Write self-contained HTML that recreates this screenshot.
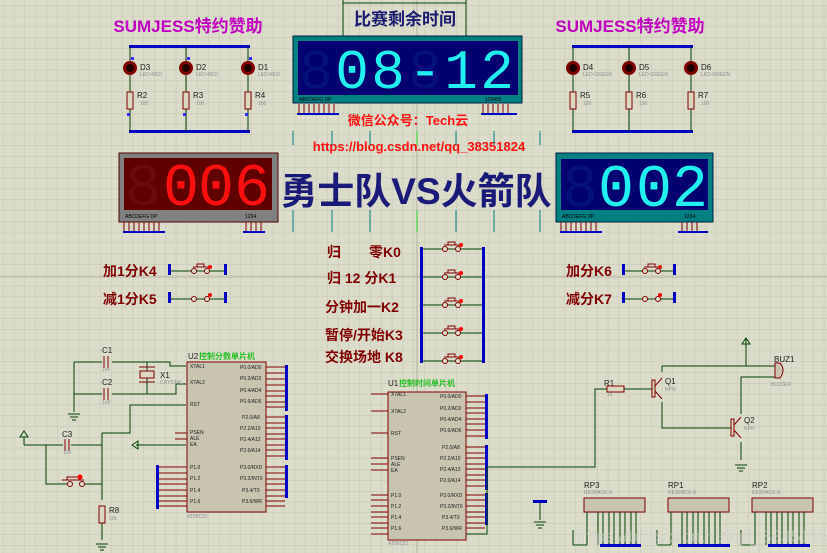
<!DOCTYPE html>
<html><head><meta charset="utf-8"><style>
html,body{margin:0;padding:0;background:#dcdccb;}
svg{display:block}
.t{font-family:"Liberation Sans","Noto Sans CJK SC",sans-serif;}
</style></head><body>
<svg width="827" height="553" viewBox="0 0 827 553" xmlns="http://www.w3.org/2000/svg" class="t">
<defs>
<pattern id="g" width="10.8" height="10.8" patternUnits="userSpaceOnUse" x="3" y="5">
<rect width="10.8" height="10.8" fill="#dcdccb"/>
<path d="M0 0H10.8M0 0V10.8" stroke="#c4c4b2" stroke-width="1" fill="none"/>
</pattern>
</defs>
<rect width="827" height="553" fill="url(#g)"/>
<line x1="0" y1="277" x2="827" y2="277" stroke="#b4b4a4" stroke-width="1"/>
<line x1="417" y1="0" x2="417" y2="553" stroke="#b4b4a4" stroke-width="1"/>

<path d="M343 0V36M466 0V36M343 3H466" stroke="#004000" fill="none"/>
<text x="405" y="25" font-size="17" font-weight="bold" fill="#1a1a70" text-anchor="middle">比赛剩余时间</text>

<text x="188" y="32" font-size="17" font-weight="bold" fill="#c000c0" text-anchor="middle">SUMJESS特约赞助</text>
<text x="630" y="32" font-size="17" font-weight="bold" fill="#c000c0" text-anchor="middle">SUMJESS特约赞助</text>

<g>
<rect x="129" y="45" width="121" height="3" fill="#0000c0"/>
<rect x="129" y="130" width="121" height="3" fill="#0000c0"/>
<g stroke="#004000" fill="none"><path d="M130 47V131M186 47V131M248 47V131"/></g>
<g fill="#800000"><circle cx="130" cy="68" r="7"/><circle cx="186" cy="68" r="7"/><circle cx="248" cy="68" r="7"/></g>
<g fill="#200000"><circle cx="130" cy="68" r="4"/><circle cx="186" cy="68" r="4"/><circle cx="248" cy="68" r="4"/></g>
<g fill="#dcd8c0" stroke="#800000"><rect x="127" y="92" width="6" height="17"/><rect x="183" y="92" width="6" height="17"/><rect x="245" y="92" width="6" height="17"/></g>
<g font-size="8" fill="#202020"><text x="140" y="70">D3</text><text x="196" y="70">D2</text><text x="258" y="70">D1</text><text x="137" y="98">R2</text><text x="193" y="98">R3</text><text x="255" y="98">R4</text></g>
<g font-size="5" fill="#909090"><text x="140" y="76">LED-RED</text><text x="196" y="76">LED-RED</text><text x="258" y="76">LED-RED</text><text x="140" y="105">100</text><text x="196" y="105">100</text><text x="258" y="105">100</text></g>
<g fill="#3030ff"><rect x="131" y="57" width="3" height="3"/><rect x="187" y="57" width="3" height="3"/><rect x="249" y="57" width="3" height="3"/><rect x="127" y="113" width="3" height="3"/><rect x="183" y="113" width="3" height="3"/><rect x="245" y="113" width="3" height="3"/></g>
</g>
<g transform="translate(443,0)">
<rect x="129" y="45" width="121" height="3" fill="#0000c0"/>
<rect x="129" y="130" width="121" height="3" fill="#0000c0"/>
<g stroke="#004000" fill="none"><path d="M130 47V131M186 47V131M248 47V131"/></g>
<g fill="#800000"><circle cx="130" cy="68" r="7"/><circle cx="186" cy="68" r="7"/><circle cx="248" cy="68" r="7"/></g>
<g fill="#200000"><circle cx="130" cy="68" r="4"/><circle cx="186" cy="68" r="4"/><circle cx="248" cy="68" r="4"/></g>
<g fill="#dcd8c0" stroke="#800000"><rect x="127" y="92" width="6" height="17"/><rect x="183" y="92" width="6" height="17"/><rect x="245" y="92" width="6" height="17"/></g>
<g font-size="8" fill="#202020"><text x="140" y="70">D4</text><text x="196" y="70">D5</text><text x="258" y="70">D6</text><text x="137" y="98">R5</text><text x="193" y="98">R6</text><text x="255" y="98">R7</text></g>
<g font-size="5" fill="#909090"><text x="140" y="76">LED-GREEN</text><text x="196" y="76">LED-GREEN</text><text x="258" y="76">LED-GREEN</text><text x="140" y="105">100</text><text x="196" y="105">100</text><text x="258" y="105">100</text></g>
</g>

<rect x="293" y="36" width="229" height="67" fill="#008080" stroke="#002040"/>
<rect x="298" y="41" width="220" height="54" fill="#000070"/>
<g font-size="56" fill="#06107c" text-anchor="middle" font-family="Liberation Mono,monospace"><text x="316" y="88">8</text><text x="425" y="88">8</text></g>
<g font-size="56" fill="#20f0f0" text-anchor="middle" font-family="Liberation Mono,monospace"><text x="352" y="88">0</text><text x="388" y="88">8</text><text x="425" y="88">-</text><text x="461" y="88">1</text><text x="497" y="88">2</text></g>
<text x="299" y="101" font-size="5" fill="#000">ABCDEFG  DP</text><text x="485" y="101" font-size="5" fill="#000">123456</text>
<rect x="297" y="113" width="42" height="2" fill="#0000c0"/><rect x="481" y="113" width="36" height="2" fill="#0000c0"/>
<g stroke="#800000"><path d="M299 104V113M304 104V113M309 104V113M314 104V113M319 104V113M324 104V113M329 104V113M334 104V113M483 104V113M488 104V113M493 104V113M498 104V113M503 104V113M508 104V113"/></g>

<text x="408" y="125" font-size="13" font-weight="bold" fill="#ff1010" text-anchor="middle">微信公众号：Tech云</text>
<text x="419" y="151" font-size="13" font-weight="bold" fill="#ff1010" text-anchor="middle">https://blog.csdn.net/qq_38351824</text>
<g stroke="#008080"><path d="M293 131V145M332 131V145M370 131V145M456 131V145M494 131V145M540 131V145M293 210V232M332 210V232M370 210V232M456 210V232M494 210V232M540 210V232"/></g>
<path d="M417 131V145M417 210V232" stroke="#20d020"/>

<rect x="119" y="153" width="159" height="69" fill="#808080" stroke="#500000"/>
<rect x="124" y="158" width="148" height="52" fill="#600000"/>
<g font-size="60" fill="#6a0a0a" text-anchor="middle" font-family="Liberation Mono,monospace"><text x="143" y="205">8</text></g>
<g font-size="60" fill="#ff1010" text-anchor="middle" font-family="Liberation Mono,monospace"><text x="181" y="205">0</text><text x="216" y="205">0</text><text x="252" y="205">6</text></g>
<text x="125" y="218" font-size="5" fill="#000">ABCDEFG  DP</text><text x="245" y="218" font-size="5" fill="#000">1234</text>
<rect x="123" y="231" width="42" height="2" fill="#0000c0"/><rect x="243" y="231" width="22" height="2" fill="#0000c0"/>
<g stroke="#800000"><path d="M124 222V231M129 222V231M134 222V231M139 222V231M144 222V231M149 222V231M154 222V231M159 222V231M246 222V231M251 222V231M256 222V231M261 222V231"/></g>

<text x="416" y="204" font-size="37" font-weight="bold" fill="#1a1a78" text-anchor="middle">勇士队VS火箭队</text>

<rect x="556" y="153" width="157" height="69" fill="#008080" stroke="#002040"/>
<rect x="561" y="159" width="147" height="51" fill="#000070"/>
<g font-size="60" fill="#06107c" text-anchor="middle" font-family="Liberation Mono,monospace"><text x="580" y="206">8</text></g>
<g font-size="60" fill="#20f0f0" text-anchor="middle" font-family="Liberation Mono,monospace"><text x="616" y="206">0</text><text x="654" y="206">0</text><text x="690" y="206">2</text></g>
<text x="562" y="218" font-size="5" fill="#000">ABCDEFG  DP</text><text x="684" y="218" font-size="5" fill="#000">1234</text>
<rect x="560" y="231" width="42" height="2" fill="#0000c0"/><rect x="678" y="231" width="30" height="2" fill="#0000c0"/>
<g stroke="#800000"><path d="M561 222V231M566 222V231M571 222V231M576 222V231M581 222V231M586 222V231M591 222V231M596 222V231M682 222V231M687 222V231M692 222V231M697 222V231"/></g>

<g font-size="14" font-weight="bold" fill="#800000">
<text x="103" y="276">加1分K4</text><text x="103" y="304">减1分K5</text>
<text x="566" y="276">加分K6</text><text x="566" y="304">减分K7</text>
<text x="327" y="257">归　　零K0</text><text x="327" y="283">归  12 分K1</text>
<text x="325" y="312">分钟加一K2</text><text x="325" y="340">暂停/开始K3</text><text x="325" y="362">交换场地 K8</text>
</g>

<g stroke="#004000"><path d="M170 271H225M170 299H225M623 271H675M623 299H675M421 249H483M421 277H483M421 305H483M421 333H483M421 361H483"/></g>
<g fill="#0000c0"><rect x="168" y="264" width="3" height="11"/><rect x="224" y="264" width="3" height="11"/><rect x="168" y="292" width="3" height="11"/><rect x="224" y="292" width="3" height="11"/>
<rect x="622" y="264" width="3" height="11"/><rect x="673" y="264" width="3" height="11"/><rect x="622" y="292" width="3" height="11"/><rect x="673" y="292" width="3" height="11"/>
<rect x="420" y="247" width="3" height="116"/><rect x="482" y="247" width="3" height="116"/></g>
<g fill="#dcdccb" stroke="#800000">
<circle cx="194" cy="271" r="2.5"/><circle cx="207" cy="271" r="2.5"/><circle cx="194" cy="299" r="2.5"/><circle cx="207" cy="299" r="2.5"/>
<circle cx="645" cy="271" r="2.5"/><circle cx="658" cy="271" r="2.5"/><circle cx="645" cy="299" r="2.5"/><circle cx="658" cy="299" r="2.5"/>
<circle cx="445" cy="249" r="2.5"/><circle cx="458" cy="249" r="2.5"/><circle cx="445" cy="277" r="2.5"/><circle cx="458" cy="277" r="2.5"/><circle cx="445" cy="305" r="2.5"/><circle cx="458" cy="305" r="2.5"/><circle cx="445" cy="333" r="2.5"/><circle cx="458" cy="333" r="2.5"/><circle cx="445" cy="361" r="2.5"/><circle cx="458" cy="361" r="2.5"/>
<circle cx="70" cy="484" r="2.5"/><circle cx="82" cy="484" r="2.5"/>
</g>
<g stroke="#800000" fill="none"><path d="M193 267H208M197 267V264H204V267M644 267H659M648 267V264H655V267M444 245H459M448 245V242H455V245M444 273H459M448 273V270H455V273M444 301H459M448 301V298H455V301M444 329H459M448 329V326H455V329M444 357H459M448 357V354H455V357M62 480H84M67 480V477H79V480"/></g>
<g fill="#ff0000"><circle cx="210" cy="267" r="2"/><circle cx="660" cy="267" r="2"/><circle cx="660" cy="295" r="2"/><circle cx="210" cy="295" r="2"/><circle cx="461" cy="245" r="2"/><circle cx="461" cy="273" r="2"/><circle cx="461" cy="301" r="2"/><circle cx="461" cy="329" r="2"/><circle cx="461" cy="357" r="2"/><circle cx="80" cy="477" r="2.5"/></g>

<g stroke="#004000" fill="none">
<path d="M74 362H102M112 362H170V366H186M74 362V412M74 394H102M112 394H176V384H186M147 362V394"/>
<path d="M24 445H63M71 445H102M46 445V484H67M85 484H102M102 433V500M102 523V540M102 433H130V405H186M136 445H186"/>
<path d="M24 437V445"/>
</g>
<g stroke="#800000" fill="none"><path d="M104 356V368M108 356V368M104 388V400M108 388V400M65 439V451M69 439V451"/></g>
<rect x="140" y="371" width="14" height="7" fill="#dcd8c0" stroke="#800000"/><path d="M139 367H155M139 382H155" stroke="#800000"/>
<rect x="99" y="506" width="6" height="17" fill="#dcd8c0" stroke="#800000"/>
<path d="M68 414H80M70 417H78M72 420H76M96 544H108M98 547H106M100 550H104" stroke="#004000"/>
<path d="M20 437L24 431L28 437Z M132 445L138 441V449Z" fill="none" stroke="#004000"/>
<g font-size="8" fill="#202020"><text x="102" y="353">C1</text><text x="102" y="385">C2</text><text x="62" y="437">C3</text><text x="160" y="378">X1</text><text x="109" y="513">R8</text><text x="188" y="359">U2</text><text x="388" y="386">U1</text><text x="604" y="386">R1</text><text x="665" y="384">Q1</text><text x="744" y="423">Q2</text><text x="774" y="362">BUZ1</text><text x="584" y="488">RP3</text><text x="668" y="488">RP1</text><text x="752" y="488">RP2</text></g>
<g font-size="5" fill="#909090"><text x="102" y="371">1nF</text><text x="102" y="404">1nF</text><text x="63" y="454">1nF</text><text x="160" y="384">CRYSTAL</text><text x="109" y="520">10k</text><text x="607" y="396">1k</text><text x="665" y="391">NPN</text><text x="744" y="430">NPN</text><text x="771" y="386">BUZZER</text><text x="584" y="494">RESPACK-8</text><text x="668" y="494">RESPACK-8</text><text x="752" y="494">RESPACK-8</text><text x="187" y="518">AT89C51</text><text x="388" y="545">AT89C51</text></g>
<text x="199" y="359" font-size="8" font-weight="bold" fill="#20c020">控制分数单片机</text>
<text x="399" y="386" font-size="8" font-weight="bold" fill="#20c020">控制时间单片机</text>

<rect x="187" y="362" width="79" height="150" fill="#c8c4b0" stroke="#800000"/>
<rect x="388" y="392" width="78" height="148" fill="#c8c4b0" stroke="#800000"/>
<g stroke="#800000">
<path d="M266 367H285M266 373H285M266 379H285M266 385H285M266 391H285M266 396H285M266 402H285M266 407H285M266 417H285M266 423H285M266 428H285M266 434H285M266 439H285M266 445H285M266 450H285M266 456H285M266 467H285M266 473H285M266 479H285M266 484H285M266 490H285M266 496H285M266 501H285M266 506H285"/>
<path d="M158 467H187M158 473H187M158 479H187M158 484H187M158 490H187M158 496H187M158 501H187M158 506H187M175 433H187M175 439H187"/>
<path d="M466 396H485M466 402H485M466 408H485M466 413H485M466 419H485M466 424H485M466 430H485M466 436H485M466 447H485M466 453H485M466 458H485M466 464H485M466 469H485M466 475H485M466 480H485M466 486H485M466 495H485M466 500H485M466 506H485M466 512H485M466 517H485M466 523H485M466 528H485M466 534H485"/>
<path d="M371 394H388M371 411H388M371 433H388M371 458H388M371 464H388M371 470H388M371 495H388M371 500H388M371 506H388M371 512H388M371 517H388M371 523H388M371 528H388M371 534H388"/>
</g>
<g fill="#0000c0"><rect x="285" y="365" width="3" height="46"/><rect x="285" y="415" width="3" height="45"/><rect x="285" y="465" width="3" height="33"/><rect x="156" y="465" width="3" height="44"/>
<rect x="485" y="394" width="3" height="45"/><rect x="485" y="445" width="3" height="45"/><rect x="485" y="493" width="3" height="32"/></g>
<g font-size="5" fill="#202020">
<text x="240" y="369">P0.0/AD0</text><text x="240" y="380">P0.2/AD2</text><text x="240" y="392">P0.4/AD4</text><text x="240" y="403">P0.6/AD6</text><text x="242" y="419">P2.0/A8</text><text x="240" y="430">P2.2/A10</text><text x="240" y="441">P2.4/A12</text><text x="240" y="452">P2.6/A14</text><text x="240" y="469">P3.0/RXD</text><text x="240" y="480">P3.2/INT0</text><text x="242" y="492">P3.4/T0</text><text x="242" y="503">P3.6/WR</text>
<text x="190" y="368">XTAL1</text><text x="190" y="384">XTAL2</text><text x="190" y="406">RST</text><text x="190" y="434">PSEN</text><text x="190" y="440">ALE</text><text x="190" y="446">EA</text><text x="190" y="469">P1.0</text><text x="190" y="480">P1.2</text><text x="190" y="492">P1.4</text><text x="190" y="503">P1.6</text>
<text x="440" y="398">P0.0/AD0</text><text x="440" y="410">P0.2/AD2</text><text x="440" y="421">P0.4/AD4</text><text x="440" y="432">P0.6/AD6</text><text x="442" y="449">P2.0/A8</text><text x="440" y="460">P2.2/A10</text><text x="440" y="471">P2.4/A12</text><text x="440" y="482">P2.6/A14</text><text x="440" y="497">P3.0/RXD</text><text x="440" y="508">P3.2/INT0</text><text x="442" y="519">P3.4/T0</text><text x="442" y="530">P3.6/WR</text>
<text x="391" y="396">XTAL1</text><text x="391" y="413">XTAL2</text><text x="391" y="435">RST</text><text x="391" y="460">PSEN</text><text x="391" y="466">ALE</text><text x="391" y="472">EA</text><text x="391" y="497">P1.0</text><text x="391" y="508">P1.2</text><text x="391" y="519">P1.4</text><text x="391" y="530">P1.6</text>
</g>

<g stroke="#004000" fill="none">
<path d="M466 534H487V467H595V389H607M624 389H652M662 366V372M662 366H746M746 338V366H775M662 402V428H731M741 414V377H775M741 442V460"/>
</g>
<path d="M742 344L746 338L750 344Z" fill="none" stroke="#004000"/>
<path d="M735 465H747M737 468H745M739 471H743M534 522H546M536 525H544M538 528H542" stroke="#004000"/>
<rect x="533" y="500" width="14" height="3" fill="#0000c0"/><path d="M540 503V520" stroke="#004000"/>
<rect x="607" y="386" width="17" height="6" fill="#dcd8c0" stroke="#800000"/>
<rect x="652" y="380" width="3" height="17" fill="#dcd8c0" stroke="#800000"/><path d="M655 386L662 378M655 391L662 399" stroke="#800000"/>
<rect x="731" y="419" width="3" height="17" fill="#dcd8c0" stroke="#800000"/><path d="M734 425L741 417M734 430L741 438" stroke="#800000"/>
<path d="M775 363H780Q786 370 780 378H775Z" fill="#c8c4b0" stroke="#800000"/>

<g fill="#c8c4b0" stroke="#800000"><rect x="584" y="498" width="61" height="14"/><rect x="668" y="498" width="61" height="14"/><rect x="752" y="498" width="61" height="14"/></g>
<g stroke="#004000"><path d="M587 512V545M598 512V545M603 512V545M609 512V545M614 512V545M620 512V545M625 512V545M631 512V545M636 512V545M671 512V545M682 512V545M687 512V545M693 512V545M698 512V545M704 512V545M709 512V545M715 512V545M720 512V545M755 512V545M766 512V545M771 512V545M777 512V545M782 512V545M788 512V545M793 512V545M799 512V545M804 512V545M573 545H587M573 530V545M657 545H671M657 530V545M741 545H755M741 530V545"/></g>
<g fill="#0000c0"><rect x="600" y="544" width="41" height="3"/><rect x="678" y="544" width="52" height="3"/><rect x="768" y="544" width="42" height="3"/></g>
<text x="577" y="542" font-size="17" fill="#ffffff" fill-opacity="0.35" stroke="#a0a0a0" stroke-width="0.3" stroke-opacity="0.6">https://blog.csdn.net/qq_38351824</text>
</svg>
</body></html>
